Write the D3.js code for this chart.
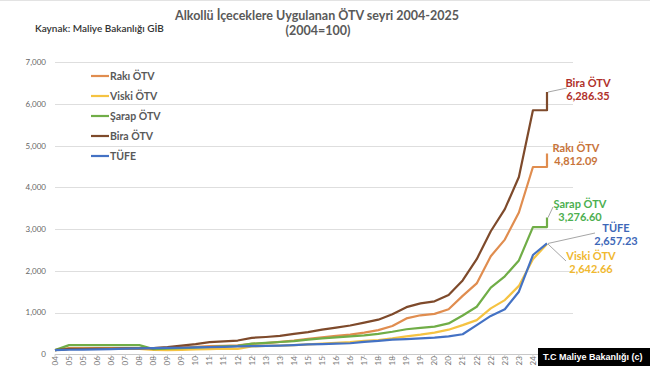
<!DOCTYPE html>
<html><head><meta charset="utf-8">
<script src="https://cdn.jsdelivr.net/npm/d3@7"></script>
<style>body{margin:0;background:#fff;} svg{display:block;}</style>
</head><body>
<svg id="c" width="650" height="366"></svg>
<script>
// ---- DATA ----
const categories = ["01.2004","01.2005","07.2005","01.2006","07.2006","07.2007","01.2008","07.2008","01.2009","07.2009",
  "01.2010","01.2011","07.2011","01.2012","07.2012","01.2013","07.2013","01.2014","01.2015","07.2015",
  "01.2016","07.2016","07.2017","01.2018","07.2018","01.2019","07.2019","01.2020","07.2020","01.2021",
  "01.2022","07.2022","01.2023","07.2023","01.2024","01.2025"];
// category index of every data point (the last point is the 2025 update at the same category)
const pointIndex = [0,1,2,3,4,5,6,7,8,9,10,11,12,13,14,15,16,17,18,19,20,21,22,23,24,25,26,27,28,29,30,31,32,33,34,35,35];
const rakiOTV = [100,150,150,150,150,150,150,150,155,165,180,195,205,215,250,270,300,330,370,405,440,470,520,580,680,860,935,970,1080,1400,1700,2350,2750,3400,4490,4490,4812.09];
const viskiOTV = [100,130,130,130,130,130,130,105,100,105,115,125,135,130,190,200,210,220,240,255,275,290,320,340,380,430,470,520,590,700,820,1100,1300,1640,2280,2642.66,2642.66];
const sarapOTV = [100,220,220,220,220,220,220,125,135,145,160,175,190,200,255,275,295,315,350,380,405,430,455,490,540,600,635,665,740,930,1140,1600,1870,2250,3050,3050,3276.60];
const biraOTV = [100,130,130,135,135,140,140,150,175,210,245,290,310,330,395,415,440,490,530,590,640,690,760,830,960,1130,1220,1270,1420,1770,2280,2950,3480,4250,5850,5850,6286.35];
const tufe = [100,109,114,118,125,135,140,150,153,157,165,172,180,188,194,202,210,222,238,245,258,265,300,320,350,365,380,400,430,480,700,920,1080,1500,2380,2657.23,2657.23];
const yTicks = [0,1000,2000,3000,4000,5000,6000,7000];
const seriesNames = ["Rakı ÖTV","Viski ÖTV","Şarap ÖTV","Bira ÖTV","TÜFE"];
const seriesValues = [rakiOTV, viskiOTV, sarapOTV, biraOTV, tufe];
const seriesColors = ["#E08D4F","#F5C342","#70AD47","#7E4A2B","#4472C4"];
const endLabelColors = ["#C8743A","#F0B830","#4CAF50","#B0302A","#3D67B8"];

// ---- CHART ----
const svg = d3.select("#c");
const F = "Lato, 'Open Sans', sans-serif";
const x = d3.scaleLinear().domain([0, categories.length - 1]).range([55, 547]);
const y = d3.scaleLinear().domain([0, 7000]).range([354.3, 62.3]);
const plotRight = 573;

svg.append("line").attr("x1",0).attr("x2",650).attr("y1",0.5).attr("y2",0.5).attr("stroke","#e3e3e3");

// gridlines
svg.append("g").selectAll("line").data(yTicks).join("line")
  .attr("x1", 55).attr("x2", plotRight)
  .attr("y1", d => Math.round(y(d)) + 0.5).attr("y2", d => Math.round(y(d)) + 0.5)
  .attr("stroke", d => d === 0 ? "#c8c8c8" : "#dedede").attr("stroke-width", 1);

// y axis labels
svg.append("g").selectAll("text").data(yTicks).join("text")
  .attr("x", 46).attr("y", d => y(d)).attr("dy", "0.35em")
  .attr("text-anchor", "end").attr("font-family", F).attr("font-size", 8)
  .attr("fill", "#666").text(d => d3.format(",")(d));

// x ticks and labels (only the two-digit year is visible in the reference)
const xg = svg.append("g");
xg.selectAll("line").data(categories).join("line")
  .attr("x1", (d,i) => x(i)).attr("x2", (d,i) => x(i))
  .attr("y1", y(0)).attr("y2", y(0) + 3).attr("stroke", "#d0d0d0");
xg.selectAll("text").data(categories).join("text")
  .attr("transform", (d,i) => `translate(${x(i)},365.5) rotate(-90)`)
  .attr("text-anchor", "start").attr("dy", "0.35em")
  .attr("font-family", F).attr("font-size", 8).attr("fill", "#777").text(d => d.slice(-2));

// lines
const line = d3.line().x((d,i) => x(pointIndex[i])).y(d => y(d));
seriesValues.forEach((vals, k) => {
  svg.append("path").datum(vals).attr("d", line)
    .attr("fill", "none").attr("stroke", seriesColors[k]).attr("stroke-width", 2.2)
    .attr("stroke-linejoin", "round");
});

// legend
const lg = svg.append("g");
seriesNames.forEach((n, k) => {
  const yy = 76 + k * 20;
  lg.append("line").attr("x1", 91).attr("x2", 109).attr("y1", yy).attr("y2", yy)
    .attr("stroke", seriesColors[k]).attr("stroke-width", 2.2);
  lg.append("text").attr("x", 110).attr("y", yy).attr("dy", "0.35em")
    .attr("font-family", F).attr("font-size", 10.5).attr("font-weight", "bold")
    .attr("fill", "#595959").text(n);
});

// end labels
const lastIdx = pointIndex.length - 1;
const endLabels = [
  {k:3, lx:588, ly:83, ax:567, ay:88},
  {k:0, lx:576, ly:148, ax:null},
  {k:2, lx:580, ly:204, ax:553, ay:207},
  {k:4, lx:616, ly:228, ax:595, ay:233},
  {k:1, lx:591, ly:256, ax:566, ay:261}
];
endLabels.forEach(o => {
  const v = seriesValues[o.k][lastIdx];
  if (o.ax !== null) {
    svg.append("line").attr("x1", x(pointIndex[lastIdx]) + 1).attr("y1", y(v))
      .attr("x2", o.ax).attr("y2", o.ay).attr("stroke", "#a6a6a6").attr("stroke-width", 1);
  }
  const t = svg.append("text").attr("x", o.lx).attr("y", o.ly).attr("text-anchor", "middle")
    .attr("font-family", F).attr("font-size", 11).attr("font-weight", "bold")
    .attr("fill", endLabelColors[o.k]);
  t.append("tspan").attr("x", o.lx).attr("dy", "0.35em").text(seriesNames[o.k]);
  t.append("tspan").attr("x", o.lx).attr("dy", "1.15em").text(d3.format(",.2f")(v));
});

// titles
svg.append("text").attr("x", 317).attr("y", 16).attr("dy", "0.35em").attr("text-anchor", "middle")
  .attr("font-family", F).attr("font-size", 12.5).attr("font-weight", "bold").attr("fill", "#595959")
  .text("Alkollü İçeceklere Uygulanan ÖTV seyri 2004-2025");
svg.append("text").attr("x", 318).attr("y", 31).attr("dy", "0.35em").attr("text-anchor", "middle")
  .attr("font-family", F).attr("font-size", 12.5).attr("font-weight", "bold").attr("fill", "#595959")
  .text("(2004=100)");
svg.append("text").attr("x", 35).attr("y", 28).attr("dy", "0.35em")
  .attr("font-family", F).attr("font-size", 10).attr("font-weight", 600).attr("fill", "#333")
  .text("Kaynak: Maliye Bakanlığı GİB");

// watermark
svg.append("rect").attr("x", 538).attr("y", 348).attr("width", 112).attr("height", 18).attr("fill", "#000");
svg.append("text").attr("x", 543).attr("y", 357).attr("dy", "0.35em")
  .attr("font-family", "'Liberation Sans', Arial, sans-serif").attr("font-size", 9).attr("font-weight", "bold")
  .attr("fill", "#fff").text("T.C Maliye Bakanlığı (c)");
</script>
</body></html>
